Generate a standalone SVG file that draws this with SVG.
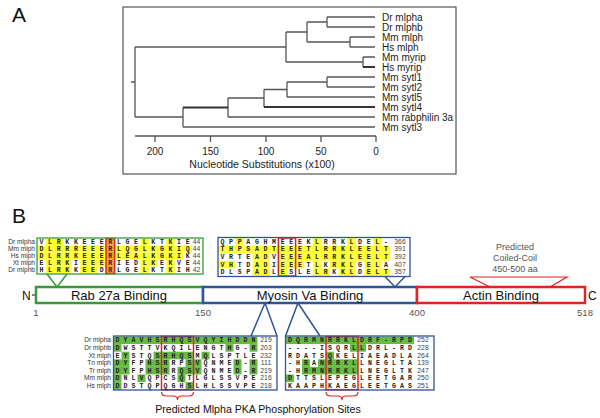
<svg xmlns="http://www.w3.org/2000/svg" width="600" height="418" viewBox="0 0 600 418">
<style>
text{font-family:"Liberation Sans",Arial,sans-serif}
.big{font-size:21px;fill:#111}
.tree{fill:none;stroke:#555;stroke-width:1.3}
.thick{fill:none;stroke:#333;stroke-width:2}
.leaf{font-size:10px;fill:#222}
.ax{font-size:10px;fill:#222;text-anchor:middle}
.lab{font-size:6.6px;fill:#333;text-anchor:end}
.res{font-family:"Liberation Mono",monospace;font-size:6.6px;font-weight:bold;fill:#222;text-anchor:middle}
.num{font-size:6.8px;fill:#444;text-anchor:middle}
.y{fill:#ffff33}
.g{fill:#66bb44}
.dom{fill:#fff;stroke-width:2.5}
.dt{font-size:13px;fill:#111;text-anchor:middle}
.pos{font-size:9.5px;fill:#555;text-anchor:middle}
.cc{font-size:9px;fill:#555;text-anchor:middle}
.gr{stroke:#3a9a3a}
.bl{stroke:#2f5597}
.rd{stroke:#e02424}
</style>
<rect width="600" height="418" fill="#fff"/>

<!-- Panel A -->
<g id="panelA">
<text class="big" x="12" y="22">A</text>
<rect x="123" y="7" width="333" height="167" fill="none" stroke="#555" stroke-width="1.2"/>
<path class="tree" d="M135,47 V117 M131,82 H135 M135,47 H286 M286,32 V62 M286,32 H307 M307,22 V42 M307,22 H327 M327,17 V27 M327,17 H375 M327,27 H375 M307,42 H350 M350,37 V47 M350,37 H375 M350,47 H375 M286,62 H363 M363,57 V67 M363,57 H375 M135,117 H183 M183,107.5 V127 M183,127 H375 M228,98 V117 M228,117 H375 M228,98 H264 M264,89.5 V107 M264,89.5 H287 M287,82 V97 M287,97 H375 M287,82 H327 M327,77 V87 M327,77 H375 M327,87 H375"/>
<path class="thick" d="M363,67 H375 M183,107.5 H228 M264,107 H375"/>
<g class="leaf">
<text x="382" y="20.5">Dr mlpha</text>
<text x="382" y="30.5">Dr mlphb</text>
<text x="382" y="40.5">Mm mlph</text>
<text x="382" y="50.5">Hs mlph</text>
<text x="382" y="60.5">Mm myrip</text>
<text x="382" y="70.5">Hs myrip</text>
<text x="382" y="80.5">Mm sytl1</text>
<text x="382" y="90.5">Mm sytl2</text>
<text x="382" y="100.5">Mm sytl5</text>
<text x="382" y="110.5">Mm sytl4</text>
<text x="382" y="120.5">Mm rabphilin 3a</text>
<text x="382" y="130.5">Mm sytl3</text>
</g>
<path class="tree" d="M135,136 H376 M155,136 V142 M210.5,136 V142 M266,136 V142 M321,136 V142 M376,136 V142"/>
<text class="ax" x="155" y="155">200</text>
<text class="ax" x="210.5" y="155">150</text>
<text class="ax" x="266" y="155">100</text>
<text class="ax" x="321" y="155">50</text>
<text class="ax" x="376" y="155">0</text>
<text class="ax" x="262" y="168" style="font-size:10.5px">Nucleotide Substitutions (x100)</text>
</g>

<!-- Panel B -->
<text class="big" x="12" y="223">B</text>

<g id="connectors">
<path d="M47,274 L57,287 L67,274" fill="none" stroke="#3a9a3a" stroke-width="1.5"/>
<path d="M385,276.5 L395,287 L405,276.5" fill="none" stroke="#2f5597" stroke-width="1.5"/>
<path d="M470,277 H567 L550,287 M470,277 L490,287" fill="none" stroke="#e02424" stroke-width="1.2"/>
<path d="M251,336 L265,303 L277,336 M285.5,336 L298,303 L320,336" fill="none" stroke="#2f5597" stroke-width="1.5"/>
<path d="M32,295 H36" stroke="#333" stroke-width="1.2"/>
<path d="M161.5,392 Q161.5,396 166.5,396 L173.5,396 Q177.5,396 177.5,400 Q177.5,396 181.5,396 L188.5,396 Q193.5,396 193.5,392" fill="none" stroke="#e02424" stroke-width="1.2"/>
<path d="M326,392 Q326,396 331,396 L338,396 Q342,396 342,400 Q342,396 346,396 L353,396 Q358,396 358,392" fill="none" stroke="#e02424" stroke-width="1.2"/>
</g>

<!-- Domain bar -->
<g id="rab27a">
<rect class="dom gr" x="36" y="287" width="167" height="16"/>
<text class="dt" x="119" y="300">Rab 27a Binding</text>
</g>
<g id="myosin">
<rect class="dom bl" x="203" y="287" width="214" height="16"/>
<text class="dt" x="310" y="300">Myosin Va Binding</text>
</g>
<g id="actin">
<rect class="dom rd" x="417" y="287" width="168" height="16"/>
<text class="dt" x="501" y="300">Actin Binding</text>
</g>
<g id="termini">
<text x="22" y="300" style="font-size:12px;fill:#111">N</text>
<text x="588" y="300" style="font-size:12px;fill:#111">C</text>
<text class="pos" x="36" y="316">1</text>
<text class="pos" x="203" y="316">150</text>
<text class="pos" x="417" y="316">400</text>
<text class="pos" x="585" y="316">518</text>
</g>
<g id="coiledcoil">
<text class="cc" x="515" y="250">Predicted</text>
<text class="cc" x="515" y="261">Coiled-Coil</text>
<text class="cc" x="515" y="272">450-500 aa</text>
</g>

<!-- Top-left alignment -->
<g id="align-rab">
<rect x="45.8" y="238.5" width="17.2" height="7" class="y"/>
<rect x="140.4" y="238.5" width="8.6" height="7" class="y"/>
<rect x="166.2" y="238.5" width="8.6" height="7" class="y"/>
<rect x="37.2" y="245.5" width="154.8" height="7" class="y"/>
<rect x="37.2" y="252.5" width="146.2" height="7" class="y"/>
<rect x="45.8" y="259.5" width="25.8" height="7" class="y"/>
<rect x="80.2" y="259.5" width="25.8" height="7" class="y"/>
<rect x="140.4" y="259.5" width="17.2" height="7" class="y"/>
<rect x="166.2" y="259.5" width="8.6" height="7" class="y"/>
<rect x="45.8" y="266.5" width="25.8" height="7" class="y"/>
<rect x="80.2" y="266.5" width="17.2" height="7" class="y"/>
<rect x="140.4" y="266.5" width="8.6" height="7" class="y"/>
<rect x="166.2" y="266.5" width="8.6" height="7" class="y"/>
<rect x="106" y="238.5" width="8.6" height="35" fill="#f4a63a"/>
<rect x="106" y="238.5" width="8.6" height="35" fill="none" stroke="#e02424" stroke-width="1.5"/>
<rect x="37" y="238" width="166" height="36" fill="none" stroke="#3a9a3a" stroke-width="1.3"/>
<text class="lab" x="35" y="244">Dr mlpha</text>
<text class="lab" x="35" y="251">Mm mlph</text>
<text class="lab" x="35" y="258">Hs mlph</text>
<text class="lab" x="35" y="265">Xt mlph</text>
<text class="lab" x="35" y="272">Dr mlphb</text>
<text class="res" x="41.5 50.1 58.7 67.3 75.9 84.5 93.1 101.7 110.3 118.9 127.5 136.1 144.7 153.3 161.9 170.5 179.1 187.7" y="244">VLRKKEEERLGELKTKIE</text>
<text class="res" x="41.5 50.1 58.7 67.3 75.9 84.5 93.1 101.7 110.3 118.9 127.5 136.1 144.7 153.3 161.9 170.5 179.1 187.7" y="251">DLRRREEERLQGLKGKIQ</text>
<text class="res" x="41.5 50.1 58.7 67.3 75.9 84.5 93.1 101.7 110.3 118.9 127.5 136.1 144.7 153.3 161.9 170.5 179.1 187.7" y="258">DLRRKEEERLEALKGKIK</text>
<text class="res" x="41.5 50.1 58.7 67.3 75.9 84.5 93.1 101.7 110.3 118.9 127.5 136.1 144.7 153.3 161.9 170.5 179.1 187.7" y="265">ELRKIEEERIEDLKEKVE</text>
<text class="res" x="41.5 50.1 58.7 67.3 75.9 84.5 93.1 101.7 110.3 118.9 127.5 136.1 144.7 153.3 161.9 170.5 179.1 187.7" y="272">HLRKKEEDRLGELKTKIH</text>
<text class="num" x="196.5" y="244">44</text>
<text class="num" x="196.5" y="251">44</text>
<text class="num" x="196.5" y="258">44</text>
<text class="num" x="196.5" y="265">44</text>
<text class="num" x="196.5" y="272">42</text>
</g>

<!-- Top-middle alignment -->
<g id="align-myo1">
<rect x="235.4" y="238" width="8.6" height="7.6" class="y"/>
<rect x="312.8" y="238" width="8.6" height="7.6" class="y"/>
<rect x="347.2" y="238" width="8.6" height="7.6" class="y"/>
<rect x="373" y="238" width="8.6" height="7.6" class="y"/>
<rect x="218.2" y="245.6" width="172" height="7.6" class="y"/>
<rect x="252.6" y="253.2" width="17.2" height="7.6" class="y"/>
<rect x="278.4" y="253.2" width="111.8" height="7.6" class="y"/>
<rect x="218.2" y="260.8" width="17.2" height="7.6" class="y"/>
<rect x="252.6" y="260.8" width="17.2" height="7.6" class="y"/>
<rect x="278.4" y="260.8" width="25.8" height="7.6" class="y"/>
<rect x="312.8" y="260.8" width="8.6" height="7.6" class="y"/>
<rect x="330" y="260.8" width="25.8" height="7.6" class="y"/>
<rect x="364.4" y="260.8" width="17.2" height="7.6" class="y"/>
<rect x="252.6" y="268.4" width="17.2" height="7.6" class="y"/>
<rect x="278.4" y="268.4" width="8.6" height="7.6" class="y"/>
<rect x="312.8" y="268.4" width="17.2" height="7.6" class="y"/>
<rect x="338.6" y="268.4" width="17.2" height="7.6" class="y"/>
<rect x="364.4" y="268.4" width="25.8" height="7.6" class="y"/>
<rect x="278.4" y="238" width="17.2" height="38" fill="none" stroke="#c0282a" stroke-width="1.5"/>
<rect x="218" y="237.5" width="192" height="39" fill="none" stroke="#2f5597" stroke-width="1.3"/>
<text class="res" x="222.5 231.1 239.7 248.3 256.9 265.5 274.1 282.7 291.3 299.9 308.5 317.1 325.7 334.3 342.9 351.5 360.1 368.7 377.3 385.9" y="243.8">QPPAGHMEEEKLRRKLDEL-</text>
<text class="res" x="222.5 231.1 239.7 248.3 256.9 265.5 274.1 282.7 291.3 299.9 308.5 317.1 325.7 334.3 342.9 351.5 360.1 368.7 377.3 385.9" y="251.4">THPSADTEEETLRRKLEELT</text>
<text class="res" x="222.5 231.1 239.7 248.3 256.9 265.5 274.1 282.7 291.3 299.9 308.5 317.1 325.7 334.3 342.9 351.5 360.1 368.7 377.3 385.9" y="259">VRTEADVEEEALRRKLEELT</text>
<text class="res" x="222.5 231.1 239.7 248.3 256.9 265.5 274.1 282.7 291.3 299.9 308.5 317.1 325.7 334.3 342.9 351.5 360.1 368.7 377.3 385.9" y="266.6">VHTDADIEEETLKRKLGELA</text>
<text class="res" x="222.5 231.1 239.7 248.3 256.9 265.5 274.1 282.7 291.3 299.9 308.5 317.1 325.7 334.3 342.9 351.5 360.1 368.7 377.3 385.9" y="274.2">DLSPADLESLELRKKLDELT</text>
<text class="num" x="400" y="243.8">366</text>
<text class="num" x="400" y="251.4">391</text>
<text class="num" x="400" y="259">392</text>
<text class="num" x="400" y="266.6">407</text>
<text class="num" x="400" y="274.2">357</text>
</g>

<!-- Bottom-left alignment -->
<g id="align-pka1">
<rect x="113.5" y="336.5" width="144" height="7.6" class="g"/>
<rect x="113.5" y="344.1" width="8" height="7.6" class="g"/>
<rect x="225.5" y="344.1" width="8" height="7.6" class="g"/>
<rect x="249.5" y="344.1" width="8" height="7.6" class="g"/>
<rect x="121.5" y="351.7" width="8" height="7.6" class="g"/>
<rect x="153.5" y="351.7" width="40" height="7.6" class="g"/>
<rect x="201.5" y="351.7" width="8" height="7.6" class="g"/>
<rect x="113.5" y="359.3" width="16" height="7.6" class="g"/>
<rect x="145.5" y="359.3" width="24" height="7.6" class="g"/>
<rect x="185.5" y="359.3" width="16" height="7.6" class="g"/>
<rect x="233.5" y="359.3" width="8" height="7.6" class="g"/>
<rect x="249.5" y="359.3" width="8" height="7.6" class="g"/>
<rect x="113.5" y="366.9" width="16" height="7.6" class="g"/>
<rect x="145.5" y="366.9" width="24" height="7.6" class="g"/>
<rect x="177.5" y="366.9" width="24" height="7.6" class="g"/>
<rect x="233.5" y="366.9" width="8" height="7.6" class="g"/>
<rect x="249.5" y="366.9" width="8" height="7.6" class="g"/>
<rect x="113.5" y="374.5" width="8" height="7.6" class="g"/>
<rect x="137.5" y="374.5" width="8" height="7.6" class="g"/>
<rect x="177.5" y="374.5" width="8" height="7.6" class="g"/>
<rect x="113.5" y="382.1" width="8" height="7.6" class="g"/>
<rect x="185.5" y="382.1" width="8" height="7.6" class="g"/>
<rect x="161.5" y="336.5" width="32" height="53.2" fill="none" stroke="#e02424" stroke-width="1.5"/>
<rect x="113.5" y="336" width="163.5" height="54" fill="none" stroke="#2f5597" stroke-width="1.3"/>
<text class="lab" x="111" y="342.3">Dr mlpha</text>
<text class="lab" x="111" y="349.9">Dr mlphb</text>
<text class="lab" x="111" y="357.5">Xt mlph</text>
<text class="lab" x="111" y="365.1">Tn mlph</text>
<text class="lab" x="111" y="372.7">Tr mlph</text>
<text class="lab" x="111" y="380.3">Mm mlph</text>
<text class="lab" x="111" y="387.9">Hs mlph</text>
<text class="res" x="117.5 125.5 133.5 141.5 149.5 157.5 165.5 173.5 181.5 189.5 197.5 205.5 213.5 221.5 229.5 237.5 245.5 253.5" y="342.3">DYAVHSRHQSVQYIHDDN</text>
<text class="res" x="117.5 125.5 133.5 141.5 149.5 157.5 165.5 173.5 181.5 189.5 197.5 205.5 213.5 221.5 229.5 237.5 245.5 253.5" y="349.9">DWSTTVKQILENGTHG-R</text>
<text class="res" x="117.5 125.5 133.5 141.5 149.5 157.5 165.5 173.5 181.5 189.5 197.5 205.5 213.5 221.5 229.5 237.5 245.5 253.5" y="357.5">EYSTQSRHQSMQLSPTLE</text>
<text class="res" x="117.5 125.5 133.5 141.5 149.5 157.5 165.5 173.5 181.5 189.5 197.5 205.5 213.5 221.5 229.5 237.5 245.5 253.5" y="365.1">DYFPHSRRPSVQNMED-R</text>
<text class="res" x="117.5 125.5 133.5 141.5 149.5 157.5 165.5 173.5 181.5 189.5 197.5 205.5 213.5 221.5 229.5 237.5 245.5 253.5" y="372.7">DYFPHSRRQSVQNMED-R</text>
<text class="res" x="117.5 125.5 133.5 141.5 149.5 157.5 165.5 173.5 181.5 189.5 197.5 205.5 213.5 221.5 229.5 237.5 245.5 253.5" y="380.3">DNLVQPCSQTLGLSSVPE</text>
<text class="res" x="117.5 125.5 133.5 141.5 149.5 157.5 165.5 173.5 181.5 189.5 197.5 205.5 213.5 221.5 229.5 237.5 245.5 253.5" y="387.9">DDSTQPQGHSLHLSSVPE</text>
<text class="num" x="266" y="342.3">219</text>
<text class="num" x="266" y="349.9">203</text>
<text class="num" x="266" y="357.5">232</text>
<text class="num" x="266" y="365.1">111</text>
<text class="num" x="266" y="372.7">219</text>
<text class="num" x="266" y="380.3">216</text>
<text class="num" x="266" y="387.9">218</text>
</g>

<!-- Bottom-right alignment -->
<g id="align-pka2">
<rect x="286" y="336.5" width="128" height="7.6" class="g"/>
<rect x="350" y="344.1" width="16" height="7.6" class="g"/>
<rect x="326" y="351.7" width="8" height="7.6" class="g"/>
<rect x="302" y="359.3" width="8" height="7.6" class="g"/>
<rect x="318" y="359.3" width="40" height="7.6" class="g"/>
<rect x="302" y="366.9" width="56" height="7.6" class="g"/>
<rect x="286" y="374.5" width="8" height="7.6" class="g"/>
<rect x="326" y="336.5" width="32" height="53.2" fill="none" stroke="#e02424" stroke-width="1.5"/>
<rect x="285.5" y="336" width="148.5" height="54" fill="none" stroke="#2f5597" stroke-width="1.3"/>
<text class="res" x="290 298 306 314 322 330 338 346 354 362 370 378 386 394 402 410" y="342.3">DQRMNRRKLDRF-RPD</text>
<text class="res" x="290 298 306 314 322 330 338 346 354 362 370 378 386 394 402 410" y="349.9">----ISQRLLDRL-RD</text>
<text class="res" x="290 298 306 314 322 330 338 346 354 362 370 378 386 394 402 410" y="357.5">RDATSQKELIAEADLA</text>
<text class="res" x="290 298 306 314 322 330 338 346 354 362 370 378 386 394 402 410" y="365.1">-HRANRRKLLNEGLTA</text>
<text class="res" x="290 298 306 314 322 330 338 346 354 362 370 378 386 394 402 410" y="372.7">-HRMNRRKLLNEGLTK</text>
<text class="res" x="290 298 306 314 322 330 338 346 354 362 370 378 386 394 402 410" y="380.3">DTTSLEPEGLEETGAR</text>
<text class="res" x="290 298 306 314 322 330 338 346 354 362 370 378 386 394 402 410" y="387.9">KAAPHKAEGLEETGAS</text>
<text class="num" x="423" y="342.3">252</text>
<text class="num" x="423" y="349.9">228</text>
<text class="num" x="423" y="357.5">264</text>
<text class="num" x="423" y="365.1">139</text>
<text class="num" x="423" y="372.7">247</text>
<text class="num" x="423" y="380.3">250</text>
<text class="num" x="423" y="387.9">251</text>
</g>

<text x="258" y="413" style="font-size:10.6px;fill:#111;text-anchor:middle">Predicted Mlpha PKA Phosphorylation Sites</text>
</svg>
